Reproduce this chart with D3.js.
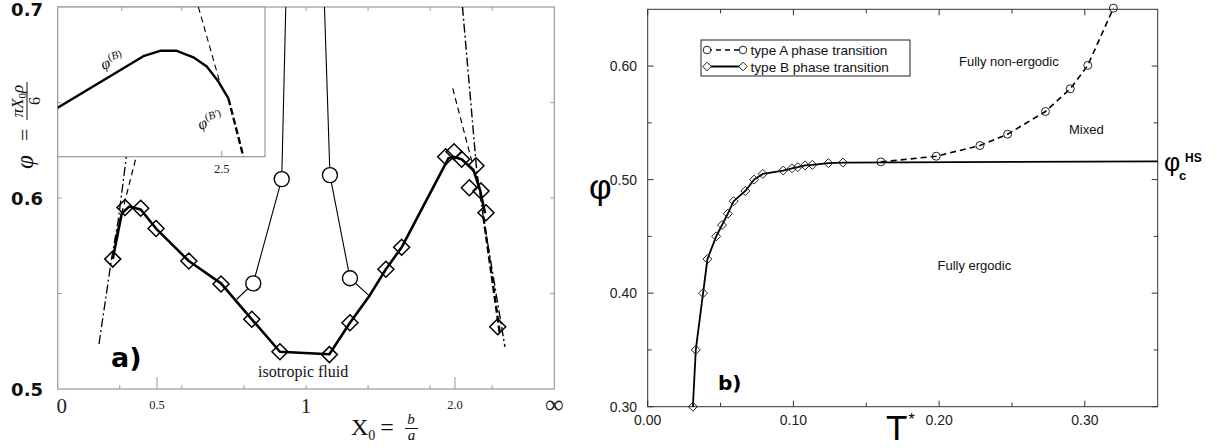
<!DOCTYPE html>
<html>
<head>
<meta charset="utf-8">
<script src="https://cdn.jsdelivr.net/npm/d3@7"></script>
<style>
  body { margin: 0; background: #fff; }
  svg { display: block; }
</style>
</head>
<body>
<script>
// ================= Panel a: packing fraction vs. aspect parameter X0 =================
// diamonds: simulated transition points [X0, phi]
const aDiamonds = [
  [0.353, 0.568], [0.396, 0.595], [0.448, 0.5946], [0.497, 0.584], [0.599, 0.567],
  [0.700, 0.555], [0.801, 0.5365], [0.900, 0.5195], [1.099, 0.518], [1.196, 0.5347],
  [1.396, 0.5627], [1.501, 0.5742], [1.890, 0.6216], [1.988, 0.6242], [2.088, 0.6203],
  [2.201, 0.6054], [2.311, 0.6169], [2.403, 0.6037], [2.504, 0.5923], [2.788, 0.5326]
];
// thick boundary phi^(B)
const aBoundaryB = [
  [0.353, 0.568], [0.385, 0.592], [0.41, 0.5955], [0.448, 0.594], [0.497, 0.584],
  [0.599, 0.567], [0.700, 0.5553], [0.801, 0.5365], [0.900, 0.5195], [1.099, 0.5182],
  [1.196, 0.5347], [1.30, 0.549], [1.396, 0.5627], [1.501, 0.5742], [1.921, 0.6208],
  [1.979, 0.6216], [2.088, 0.6203], [2.267, 0.6147], [2.385, 0.6042], [2.484, 0.592]
];
// heavy dashed continuation phi^(B')
const aBoundaryBp = [[2.45, 0.5902], [2.855, 0.5283]];
// circles: second branch, diverging near X0 = 1
const aCircleLine = [
  [0.7507, 0.547], [0.806, 0.5553], [0.9066, 0.6099], [0.925, 0.72],
  [1.072, 0.72], [1.1016, 0.612], [1.196, 0.558], [1.298, 0.5488]
];
const aCircles = [[0.806, 0.5553], [0.9066, 0.6099], [1.1016, 0.612], [1.196, 0.558]];
// asymptotic estimates near the ends
const aLeftDashDot = [[0.4034, 0.6251], [0.3728, 0.5885], [0.3492, 0.5686], [0.300, 0.5225]];
const aLeftDashed = [[0.439, 0.6251], [0.361, 0.578]];
const aRightDashDot = [[2.079, 0.709], [2.323, 0.6147], [2.442, 0.5911], [3.011, 0.522]];
const aRightDashed = [[1.972, 0.6574], [2.239, 0.6194]];

const aXTickValues = [0, 0.5, 1, 2, Infinity];
const aXTickLabels = ["0", "0.5", "1", "2.0", "\u221E"];
const aYTickValues = [0.5, 0.6, 0.7];
const aYTickLabels = ["0.5", "0.6", "0.7"];

// inset: enlarged view of the right-hand maximum
const insetB = [
  [2.089, 0.6090], [2.304, 0.6186], [2.346, 0.6196], [2.3875, 0.6196], [2.429, 0.6184],
  [2.4625, 0.6167], [2.4915, 0.6139], [2.5165, 0.6108]
];
const insetBp = [[2.5165, 0.6108], [2.554, 0.600]];
const insetTangent = [[2.4415, 0.6277], [2.4958, 0.6136]];

// ================= Panel b: phase diagram in the (T*, phi) plane =================
const bTypeB = [
  [0.031, 0.300], [0.033, 0.350], [0.038, 0.400], [0.041, 0.430], [0.047, 0.450],
  [0.051, 0.460], [0.055, 0.470], [0.059, 0.481], [0.067, 0.490], [0.073, 0.500],
  [0.079, 0.505], [0.093, 0.508], [0.099, 0.510], [0.103, 0.511], [0.108, 0.5125],
  [0.113, 0.513], [0.124, 0.5145], [0.134, 0.515]
];
const bTypeA = [
  [0.160, 0.5156], [0.198, 0.5206], [0.228, 0.530], [0.247, 0.540], [0.273, 0.560],
  [0.290, 0.580], [0.302, 0.6006], [0.3196, 0.651]
];
const bPhiCHS = 0.516;
const bXTicks = [0.0, 0.1, 0.2, 0.3];
const bXMinor = [0.05, 0.15, 0.25];
const bYTicks = [0.30, 0.40, 0.50, 0.60];
const bYMinor = [0.35, 0.45, 0.55];

// ------------------------------------------------------------------------------------
const svg = d3.select("body").append("svg").attr("width", 1230).attr("height", 448);
svg.append("rect").attr("width", 1230).attr("height", 448).attr("fill", "#fff");
const defs = svg.append("defs");

const SERIF = "'Liberation Serif', 'DejaVu Serif', serif";
const SANS = "'Liberation Sans', Arial, sans-serif";
const BOLD = "'DejaVu Sans', 'Liberation Sans', sans-serif";

function diamond(r) { return `M0,${-r}L${r},0L0,${r}L${-r},0Z`; }

// ================= Panel a =================
const A = { left: 57.7, right: 554.3, top: 7, bottom: 389 };
// the axis is linear in X0^2/(1+X0^2), so X0 = 1 sits in the middle and infinity at the edge
const uScale = d3.scaleLinear().domain([0, 1]).range([A.left, A.right]);
const squash = X => (isFinite(X) ? (X * X) / (1 + X * X) : 1);
const xa = X => uScale(squash(X));
const ya = d3.scaleLinear().domain([0.5, 0.7]).range([A.bottom, A.top]);
const gray = "#9a9a9a";

const pa = svg.append("g");
pa.append("rect").attr("x", A.left).attr("y", A.top)
  .attr("width", A.right - A.left).attr("height", A.bottom - A.top)
  .attr("fill", "none").attr("stroke", gray).attr("stroke-width", 1.2);

const aMinorU = d3.range(1, 8).map(k => k / 8);
pa.selectAll(".tb").data(aMinorU).join("line")
  .attr("x1", d => uScale(d)).attr("x2", d => uScale(d))
  .attr("y1", A.bottom).attr("y2", A.bottom - 4).attr("stroke", gray);
pa.selectAll(".tt").data(aMinorU).join("line")
  .attr("x1", d => uScale(d)).attr("x2", d => uScale(d))
  .attr("y1", A.top).attr("y2", A.top + 4).attr("stroke", gray);
pa.selectAll(".tl").data([0.5, 2]).join("line")
  .attr("x1", d => xa(d)).attr("x2", d => xa(d))
  .attr("y1", A.bottom).attr("y2", A.bottom - 12).attr("stroke", gray);
const aYMinor = [0.55, 0.6, 0.65];
pa.selectAll(".yl").data(aYMinor).join("line")
  .attr("x1", A.left).attr("x2", A.left + 4)
  .attr("y1", d => ya(d)).attr("y2", d => ya(d)).attr("stroke", gray);
pa.selectAll(".yr").data(aYMinor).join("line")
  .attr("x1", A.right).attr("x2", A.right - 4)
  .attr("y1", d => ya(d)).attr("y2", d => ya(d)).attr("stroke", gray);

// x tick labels
pa.selectAll(".xlab").data(aXTickValues).join("text")
  .attr("x", d => xa(d) + (d === 0 ? 4 : 0))
  .attr("y", (d, i) => (aXTickLabels[i].length > 1 && aXTickLabels[i] !== "\u221E") ? 409 : 413)
  .attr("text-anchor", "middle")
  .attr("font-family", SERIF)
  .attr("font-size", (d, i) => aXTickLabels[i] === "\u221E" ? 26 : (aXTickLabels[i].length > 1 ? 12.5 : 21))
  .attr("fill", "#222")
  .text((d, i) => aXTickLabels[i]);

// y tick labels (the top one sits flush with the upper edge)
pa.selectAll(".ylab").data(aYTickValues).join("text")
  .attr("x", 43).attr("y", d => Math.max(ya(d) + 6.5, 16))
  .attr("text-anchor", "end").attr("font-family", BOLD).attr("font-weight", "bold")
  .attr("font-size", 18).attr("fill", "#111")
  .text((d, i) => aYTickLabels[i]);

// plot contents, clipped to the frame
defs.append("clipPath").attr("id", "clipA").append("rect")
  .attr("x", A.left).attr("y", A.top).attr("width", A.right - A.left).attr("height", A.bottom - A.top);
const ca = pa.append("g").attr("clip-path", "url(#clipA)");
const lineA = d3.line().x(d => xa(d[0])).y(d => ya(d[1]));

ca.append("path").datum(aLeftDashDot).attr("d", lineA).attr("fill", "none")
  .attr("stroke", "#000").attr("stroke-width", 1.3).attr("stroke-dasharray", "9,3,2,3");
ca.append("path").datum(aLeftDashed).attr("d", lineA).attr("fill", "none")
  .attr("stroke", "#000").attr("stroke-width", 1.2).attr("stroke-dasharray", "6,4");
ca.append("path").datum(aRightDashDot).attr("d", lineA).attr("fill", "none")
  .attr("stroke", "#000").attr("stroke-width", 1.4).attr("stroke-dasharray", "9,3,2,3");
ca.append("path").datum(aRightDashed).attr("d", lineA).attr("fill", "none")
  .attr("stroke", "#000").attr("stroke-width", 1.2).attr("stroke-dasharray", "6,4");
ca.append("path").datum(aBoundaryBp).attr("d", lineA).attr("fill", "none")
  .attr("stroke", "#000").attr("stroke-width", 2.4).attr("stroke-dasharray", "7,3");
ca.append("path").datum(aCircleLine).attr("d", lineA).attr("fill", "none")
  .attr("stroke", "#000").attr("stroke-width", 1.1);
ca.append("path").datum(aBoundaryB).attr("d", lineA).attr("fill", "none")
  .attr("stroke", "#000").attr("stroke-width", 2.6).attr("stroke-linejoin", "round");

ca.selectAll(".ac").data(aCircles).join("circle")
  .attr("cx", d => xa(d[0])).attr("cy", d => ya(d[1])).attr("r", 7.5)
  .attr("fill", "#fff").attr("stroke", "#000").attr("stroke-width", 1.4);
ca.selectAll(".ad").data(aDiamonds).join("path")
  .attr("transform", d => `translate(${xa(d[0])},${ya(d[1])})`)
  .attr("d", diamond(8)).attr("fill", "none").attr("stroke", "#000").attr("stroke-width", 1.5);

// inset
const I = { left: 57.7, right: 265, top: 7, bottom: 156.7 };
const xi = d3.scaleLinear().domain([2.09, 2.608]).range([I.left, I.right]);
const yi = d3.scaleLinear().domain([0.6, 0.6277]).range([I.bottom, I.top]);
const ins = pa.append("g");
ins.append("rect").attr("x", I.left).attr("y", I.top)
  .attr("width", I.right - I.left).attr("height", I.bottom - I.top)
  .attr("fill", "#fff").attr("stroke", gray).attr("stroke-width", 1.2);
ins.selectAll(".itt").data([2.25, 2.40]).join("line")
  .attr("x1", d => xi(d)).attr("x2", d => xi(d)).attr("y1", I.top).attr("y2", I.top + 4).attr("stroke", gray);
ins.append("line").attr("x1", xi(2.5)).attr("x2", xi(2.5)).attr("y1", I.bottom).attr("y2", I.bottom - 6).attr("stroke", gray);
ins.append("line").attr("x1", I.left).attr("x2", I.left + 4).attr("y1", yi(0.61)).attr("y2", yi(0.61)).attr("stroke", gray);
ins.append("text").attr("x", xi(2.5)).attr("y", 173).attr("text-anchor", "middle")
  .attr("font-family", SERIF).attr("font-size", 12.5).attr("fill", "#222").text("2.5");

defs.append("clipPath").attr("id", "clipI").append("rect")
  .attr("x", I.left).attr("y", I.top).attr("width", I.right - I.left).attr("height", I.bottom - I.top);
const ci = ins.append("g").attr("clip-path", "url(#clipI)");
const lineI = d3.line().x(d => xi(d[0])).y(d => yi(d[1]));
ci.append("path").datum(insetTangent).attr("d", lineI).attr("fill", "none")
  .attr("stroke", "#000").attr("stroke-width", 1.1).attr("stroke-dasharray", "6,4");
ci.append("path").datum(insetB).attr("d", lineI).attr("fill", "none")
  .attr("stroke", "#000").attr("stroke-width", 2.4).attr("stroke-linejoin", "round");
ci.append("path").datum(insetBp).attr("d", lineI).attr("fill", "none")
  .attr("stroke", "#000").attr("stroke-width", 2.4).attr("stroke-dasharray", "7,3");

function phiLabel(tr, sup) {
  const t = ins.append("text").attr("transform", tr)
    .attr("font-family", SERIF).attr("font-size", 16).attr("fill", "#111");
  t.append("tspan").attr("font-style", "italic").text("\u03C6");
  t.append("tspan").attr("font-size", 11).attr("dy", -6).text("(");
  t.append("tspan").attr("font-size", 11).attr("font-style", "italic").text(sup);
  t.append("tspan").attr("font-size", 11).text(")");
}
phiLabel("translate(103,70) rotate(-20)", "B");
phiLabel("translate(200,130) rotate(-20)", "B\u2032");

// annotations
pa.append("text").attr("x", 258).attr("y", 377).attr("font-family", SERIF)
  .attr("font-size", 16).attr("fill", "#111").text("isotropic fluid");
pa.append("text").attr("x", 111).attr("y", 367).attr("font-family", BOLD)
  .attr("font-weight", "bold").attr("font-size", 27).attr("fill", "#000").text("a)");

// x axis title: X0 = b/a
const xt = pa.append("g");
const xtt = xt.append("text").attr("x", 351).attr("y", 435).attr("font-family", SERIF)
  .attr("font-size", 24).attr("fill", "#111");
xtt.append("tspan").text("X");
xtt.append("tspan").attr("font-size", 14).attr("dy", 5).text("0");
xtt.append("tspan").attr("dy", -5).attr("dx", 5).text("=");
xt.append("line").attr("x1", 405).attr("x2", 418).attr("y1", 428.5).attr("y2", 428.5)
  .attr("stroke", "#111").attr("stroke-width", 1);
xt.append("text").attr("x", 411).attr("y", 424).attr("text-anchor", "middle")
  .attr("font-family", SERIF).attr("font-style", "italic").attr("font-size", 15).attr("fill", "#111").text("b");
xt.append("text").attr("x", 411.5).attr("y", 440).attr("text-anchor", "middle")
  .attr("font-family", SERIF).attr("font-style", "italic").attr("font-size", 15).attr("fill", "#111").text("a");

// y axis title: phi = pi X0 rho / 6
const yt = pa.append("g").attr("transform", "translate(33,117) rotate(-90)");
yt.append("text").attr("x", -52).attr("y", 0).attr("font-family", SERIF)
  .attr("font-style", "italic").attr("font-size", 25).attr("fill", "#111").text("\u03C6");
yt.append("text").attr("x", -24).attr("y", -1).attr("font-family", SERIF)
  .attr("font-size", 22).attr("fill", "#111").text("=");
const num = yt.append("text").attr("x", 16).attr("y", -10).attr("text-anchor", "middle")
  .attr("font-family", SERIF).attr("font-style", "italic").attr("font-size", 17).attr("fill", "#111");
num.append("tspan").text("\u03C0X");
num.append("tspan").attr("font-size", 11).attr("font-style", "normal").attr("dy", 3).text("0");
num.append("tspan").attr("dy", -3).text("\u03C1");
yt.append("line").attr("x1", -3).attr("x2", 35).attr("y1", -6).attr("y2", -6)
  .attr("stroke", "#111").attr("stroke-width", 1);
yt.append("text").attr("x", 16).attr("y", 7).attr("text-anchor", "middle")
  .attr("font-family", SERIF).attr("font-size", 16).attr("fill", "#111").text("6");

// ================= Panel b =================
const B = { left: 647.7, right: 1157.7, top: 9.3, bottom: 406.7 };
const xb = d3.scaleLinear().domain([0, 0.35]).range([B.left, B.right]);
const yb = d3.scaleLinear().domain([0.30, 0.65]).range([B.bottom, B.top]);
const ax = "#333";
const pb = svg.append("g");

pb.append("rect").attr("x", B.left).attr("y", B.top)
  .attr("width", B.right - B.left).attr("height", B.bottom - B.top)
  .attr("fill", "none").attr("stroke", ax).attr("stroke-width", 1);

const tickLen = major => (major ? 6 : 4);
[[bXTicks, true], [bXMinor, false]].forEach(([vals, major]) => {
  pb.selectAll(null).data(vals).join("line")
    .attr("x1", d => xb(d)).attr("x2", d => xb(d))
    .attr("y1", B.bottom).attr("y2", B.bottom - tickLen(major)).attr("stroke", ax);
  pb.selectAll(null).data(vals).join("line")
    .attr("x1", d => xb(d)).attr("x2", d => xb(d))
    .attr("y1", B.top).attr("y2", B.top + tickLen(major)).attr("stroke", ax);
});
[[bYTicks, true], [bYMinor, false]].forEach(([vals, major]) => {
  pb.selectAll(null).data(vals).join("line")
    .attr("x1", B.left).attr("x2", B.left + tickLen(major))
    .attr("y1", d => yb(d)).attr("y2", d => yb(d)).attr("stroke", ax);
  pb.selectAll(null).data(vals).join("line")
    .attr("x1", B.right).attr("x2", B.right - tickLen(major))
    .attr("y1", d => yb(d)).attr("y2", d => yb(d)).attr("stroke", ax);
});

const fmt = d3.format(".2f");
pb.selectAll(".bxl").data(bXTicks).join("text")
  .attr("x", d => xb(d)).attr("y", 425).attr("text-anchor", "middle")
  .attr("font-family", SANS).attr("font-size", 14).attr("fill", "#222").text(d => fmt(d));
pb.selectAll(".byl").data(bYTicks).join("text")
  .attr("x", 637).attr("y", d => yb(d) + 5).attr("text-anchor", "end")
  .attr("font-family", SANS).attr("font-size", 14).attr("fill", "#222").text(d => fmt(d));

const lineB = d3.line().x(d => xb(d[0])).y(d => yb(d[1]));
// type B boundary runs into the hard-sphere plateau
pb.append("path").datum(bTypeB.concat([[0.35, bPhiCHS]])).attr("d", lineB)
  .attr("fill", "none").attr("stroke", "#000").attr("stroke-width", 1.8);
pb.append("path").datum(bTypeA).attr("d", lineB)
  .attr("fill", "none").attr("stroke", "#000").attr("stroke-width", 1.6).attr("stroke-dasharray", "6,4");

pb.selectAll(".bd").data(bTypeB).join("path")
  .attr("transform", d => `translate(${xb(d[0])},${yb(d[1])})`)
  .attr("d", diamond(4.5)).attr("fill", "none").attr("stroke", "#222").attr("stroke-width", 1);
pb.selectAll(".bc").data(bTypeA).join("circle")
  .attr("cx", d => xb(d[0])).attr("cy", d => yb(d[1])).attr("r", 4)
  .attr("fill", "none").attr("stroke", "#222").attr("stroke-width", 1);

// legend
const lg = pb.append("g");
lg.append("rect").attr("x", 701).attr("y", 40).attr("width", 209).attr("height", 36)
  .attr("fill", "#fff").attr("stroke", "#222").attr("stroke-width", 1);
lg.append("line").attr("x1", 707).attr("x2", 743).attr("y1", 50).attr("y2", 50)
  .attr("stroke", "#000").attr("stroke-width", 1.5).attr("stroke-dasharray", "5,4");
lg.selectAll(".lc").data([707, 743]).join("circle")
  .attr("cx", d => d).attr("cy", 50).attr("r", 3.8).attr("fill", "#fff").attr("stroke", "#222");
lg.append("line").attr("x1", 707).attr("x2", 743).attr("y1", 66.5).attr("y2", 66.5)
  .attr("stroke", "#000").attr("stroke-width", 1.8);
lg.selectAll(".ld").data([707, 743]).join("path")
  .attr("transform", d => `translate(${d},66.5)`).attr("d", diamond(4.3))
  .attr("fill", "#fff").attr("stroke", "#222");
lg.append("text").attr("x", 750.5).attr("y", 55).attr("font-family", SANS).attr("font-size", 13.6)
  .attr("fill", "#111").text("type A phase transition");
lg.append("text").attr("x", 750.5).attr("y", 71.5).attr("font-family", SANS).attr("font-size", 13.6)
  .attr("fill", "#111").text("type B phase transition");

// region labels
pb.append("text").attr("x", 959).attr("y", 66).attr("font-family", SANS).attr("font-size", 13)
  .attr("fill", "#111").text("Fully non-ergodic");
pb.append("text").attr("x", 1069).attr("y", 134).attr("font-family", SANS).attr("font-size", 13)
  .attr("fill", "#111").text("Mixed");
pb.append("text").attr("x", 937.5).attr("y", 270).attr("font-family", SANS).attr("font-size", 13)
  .attr("fill", "#111").text("Fully ergodic");
pb.append("text").attr("x", 718).attr("y", 390).attr("font-family", BOLD).attr("font-weight", "bold")
  .attr("font-size", 20).attr("fill", "#000").text("b)");

// phi_c^HS marker at the right edge
pb.append("text").attr("x", 1164).attr("y", yb(bPhiCHS) + 10).attr("font-family", SANS)
  .attr("font-size", 25).attr("fill", "#000").text("\u03C6");
pb.append("text").attr("x", 1179).attr("y", yb(bPhiCHS) + 19).attr("font-family", SANS)
  .attr("font-weight", "bold").attr("font-size", 13).attr("fill", "#000").text("c");
pb.append("text").attr("x", 1185).attr("y", yb(bPhiCHS) + 1).attr("font-family", SANS)
  .attr("font-weight", "bold").attr("font-size", 12).attr("fill", "#000").text("HS");

// axis titles
pb.append("text").attr("x", 589).attr("y", 199).attr("font-family", SANS)
  .attr("font-size", 35).attr("fill", "#000").text("\u03C6");
const tt = pb.append("text").attr("x", 886).attr("y", 440).attr("font-family", SANS)
  .attr("font-size", 35).attr("fill", "#000");
tt.append("tspan").text("T");
tt.append("tspan").attr("font-size", 16).attr("dy", -15).attr("dx", 1).text("*");
</script>
</body>
</html>
